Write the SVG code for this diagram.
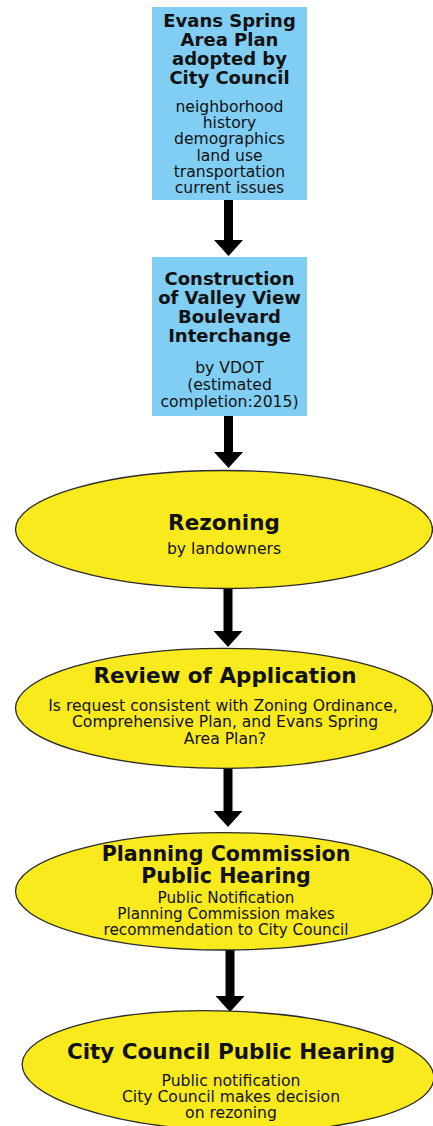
<svg xmlns="http://www.w3.org/2000/svg" width="433" height="1126" viewBox="0 0 433 1126">
<style>
text{font-family:"DejaVu Sans","Verdana",sans-serif;fill:#111;text-anchor:middle}
.hb{font-weight:bold;font-size:18px}
.bb{font-size:15.6px}
.he{font-weight:bold;font-size:21.5px}
.he2{font-weight:bold;font-size:20.6px}
.be{font-size:15.6px}
.be2{font-size:15.2px}
.box{fill:#80CEF3}
.ell{fill:#F8EA1D;stroke:#2a2a2a;stroke-width:1.3}
.arr{stroke:#000;stroke-width:9;fill:none;marker-end:url(#ah)}
</style>
<defs>
<marker id="ah" markerUnits="userSpaceOnUse" viewBox="0 0 16 29" refX="3" refY="14.5" markerWidth="16" markerHeight="29" orient="auto">
<path d="M0,0 L16,14.5 L0,29 z" fill="#000"/>
</marker>
</defs>
<g id="connectors">
<line class="arr" x1="228.5" y1="199" x2="228.5" y2="243"/>
<line class="arr" x1="228.5" y1="416" x2="228.5" y2="455"/>
<line class="arr" x1="228" y1="588" x2="228" y2="634"/>
<line class="arr" x1="228" y1="768" x2="228" y2="814"/>
<line class="arr" x1="230" y1="950" x2="230" y2="999"/>
</g>
<g id="n1">
<rect class="box" x="152" y="7" width="155" height="193"/>
<text class="hb" x="229.5" y="27">Evans Spring</text>
<text class="hb" x="229.5" y="46">Area Plan</text>
<text class="hb" x="229.5" y="65">adopted by</text>
<text class="hb" x="229.5" y="84">City Council</text>
<text class="bb" x="229.5" y="112">neighborhood</text>
<text class="bb" x="229.5" y="128.2">history</text>
<text class="bb" x="229.5" y="144.4">demographics</text>
<text class="bb" x="229.5" y="160.6">land use</text>
<text class="bb" x="229.5" y="176.8">transportation</text>
<text class="bb" x="229.5" y="193">current issues</text>
</g>
<g id="n2">
<rect class="box" x="152" y="257" width="155" height="159"/>
<text class="hb" x="229.5" y="285">Construction</text>
<text class="hb" x="229.5" y="304">of Valley View</text>
<text class="hb" x="229.5" y="323">Boulevard</text>
<text class="hb" x="229.5" y="342">Interchange</text>
<text class="bb" x="229.5" y="373">by VDOT</text>
<text class="bb" x="229.5" y="390">(estimated</text>
<text class="bb" x="229.5" y="407">completion:2015)</text>
</g>
<g id="n3">
<ellipse class="ell" cx="224" cy="529.5" rx="208.5" ry="59"/>
<text class="he" x="224" y="530">Rezoning</text>
<text class="be" x="224" y="553.5">by landowners</text>
</g>
<g id="n4">
<ellipse class="ell" cx="224" cy="708.3" rx="208.5" ry="60"/>
<text class="he" x="225" y="683">Review of Application</text>
<text class="be" x="223" y="711">Is request consistent with Zoning Ordinance,</text>
<text class="be" x="225" y="727.3">Comprehensive Plan, and Evans Spring</text>
<text class="be" x="225" y="743.6">Area Plan?</text>
</g>
<g id="n5">
<ellipse class="ell" cx="224" cy="891.3" rx="208.5" ry="58.7"/>
<text class="he2" x="226" y="861">Planning Commission</text>
<text class="he2" x="226" y="883">Public Hearing</text>
<text class="be2" x="226" y="902.5">Public Notification</text>
<text class="be2" x="226" y="918.5">Planning Commission makes</text>
<text class="be2" x="226" y="934.5">recommendation to City Council</text>
</g>
<g id="n6">
<ellipse class="ell" cx="228" cy="1071" rx="206" ry="60" transform="rotate(2 228 1071)"/>
<text class="he" x="231" y="1059">City Council Public Hearing</text>
<text class="be" x="231" y="1085.5">Public notification</text>
<text class="be" x="231" y="1101.8">City Council makes decision</text>
<text class="be" x="231" y="1118.1">on rezoning</text>
</g>
</svg>
